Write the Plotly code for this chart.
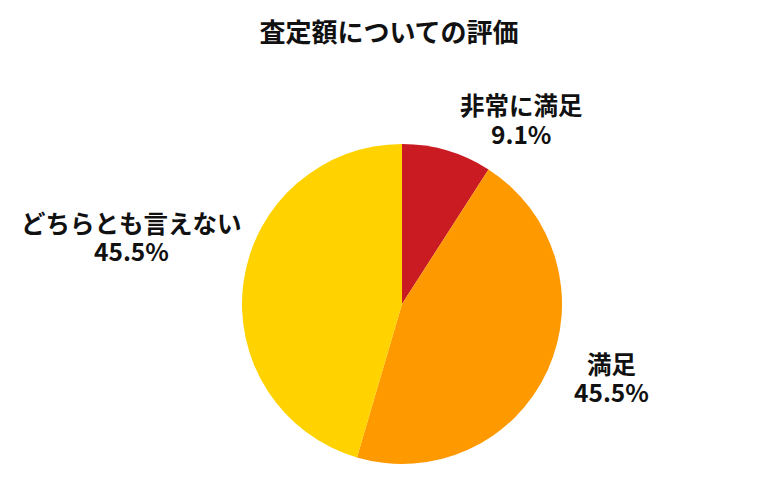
import plotly.graph_objects as go

categories = ["非常に満足", "満足", "どちらとも言えない"]
percents = [9.1, 45.5, 45.5]
colors = ["#C91B21", "#FF9900", "#FFD200"]
title_text = "査定額についての評価"

W, H = 780, 500
off = 8  # page body margin
cx, cy, r = 402 - off, 304 - off, 160

fig = go.Figure(go.Pie(
    labels=categories,
    values=percents,
    sort=False,
    direction="clockwise",
    rotation=0,
    marker=dict(colors=colors, line=dict(width=0)),
    textinfo="none",
    hoverinfo="label+percent",
    showlegend=False,
    domain=dict(x=[(cx - r) / W, (cx + r) / W],
                y=[(H - cy - r) / H, (H - cy + r) / H]),
))

# (x center, y of name line, y of percent line) in reference pixels
label_pos = [(521, 105, 133), (611, 363, 391), (132, 223, 250)]
annotations = []
font = dict(size=24.5, color="#111111", family="Noto Sans CJK JP")
for cat, p, (lx, ly1, ly2) in zip(categories, percents, label_pos):
    for txt, ly in ((cat, ly1), (f"{p:.1f}%", ly2)):
        annotations.append(dict(
            text=f"<b>{txt}</b>",
            x=(lx - off) / W, y=1 - (ly - off) / H, xref="paper", yref="paper",
            xanchor="center", yanchor="middle", showarrow=False,
            font=font, align="center",
        ))

fig.update_layout(
    width=W, height=H,
    margin=dict(l=0, r=0, t=0, b=0),
    paper_bgcolor="white",
    plot_bgcolor="white",
    title=dict(text=f"<b>{title_text}</b>", x=(389 - off) / W, xanchor="center",
               y=1 - (33 - off) / H, yanchor="middle",
               font=dict(size=26, color="#111111", family="Noto Sans CJK JP")),
    annotations=annotations,
)

fig.write_html("out.html")
